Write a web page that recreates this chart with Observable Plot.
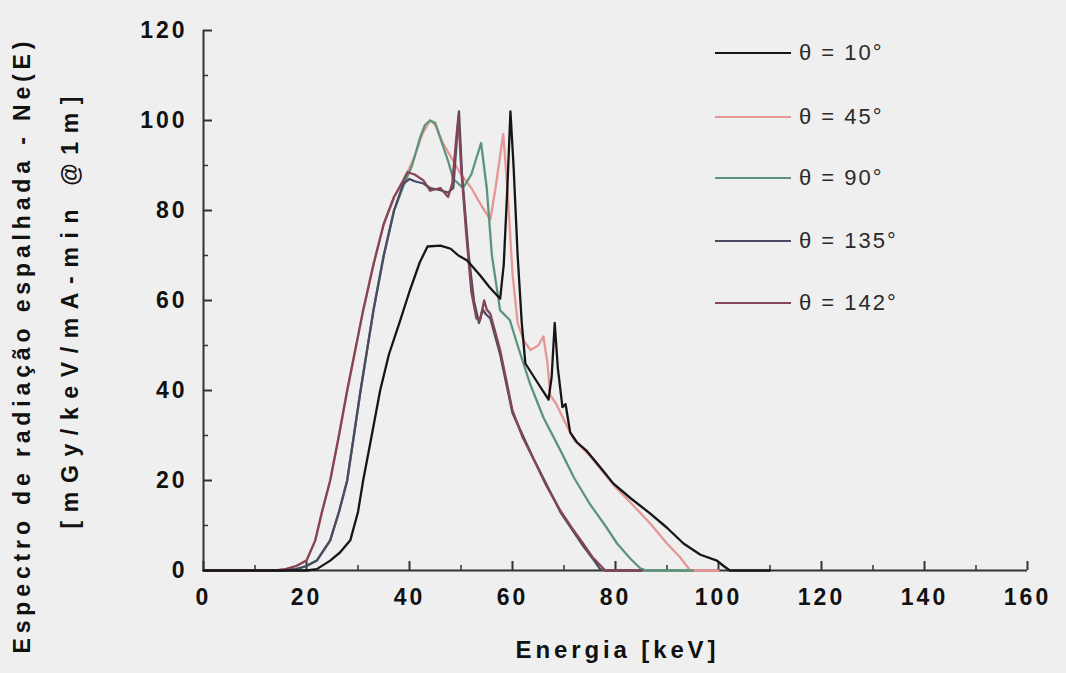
<!DOCTYPE html>
<html><head><meta charset="utf-8">
<script src="https://cdn.jsdelivr.net/npm/d3@7"></script>
<script src="https://cdn.jsdelivr.net/npm/@observablehq/plot@0.6"></script>
<style>
body{margin:0;background:#efefef;}
#wrap{position:relative;width:1066px;height:673px;background:#efefef;}
.legend{position:absolute;left:715px;top:0;font-family:"Liberation Sans",Arial,sans-serif;font-size:22px;color:#2a2a2a;}
.row{position:absolute;left:0;display:flex;align-items:center;white-space:nowrap;height:26px;margin-top:-13px;}
.sw{width:76px;height:0;border-top:2px solid;margin-right:8px;}
.lab{letter-spacing:2px;}
</style></head><body><div id="wrap"></div>
<script>
// Series names and colours
const seriesNames = ["θ = 10°", "θ = 45°", "θ = 90°", "θ = 135°", "θ = 142°"];
const seriesColors = ["#161616", "#e79696", "#5c957b", "#4a4a62", "#844556"];

// θ = 10°
const e10 = [0,20,22,24.6,26.5,28.5,30,31,32.5,34.3,36,38.2,40,42,43.5,46,48,49.5,51.2,53.7,55.5,57.6,58.3,59,59.6,60.2,61,61.8,62.5,65,67,67.6,68.2,68.8,69.7,70.3,71.2,72.5,74.3,77,79.6,83,86.7,90,93.2,96.5,99.7,101,102.2,110];
const v10 = [0,0,0.3,2.2,4,6.7,13,20,29,40,48,55.6,62,68.5,72,72.2,71.5,70,68.9,65.6,63,60.4,68,85,102,90,70,55,46,41.5,38,43,55,45,36.3,37,30.7,28.5,26.7,23,19.3,16,12.7,9.5,6,3.5,2.2,1,0,0];
// θ = 45°
const e45 = [0,14,16,18,20,21.7,23,24.6,26.3,27.9,31,33,35,37,39,41,42.5,44,45,46.5,48,50,52,54,55.7,56.7,58.2,59,60,61,62.2,63.5,65,66,66.8,67.3,68.5,70.6,72,75,80,83,86.7,90,92.5,94.5,100];
const v45 = [0,0,0.3,1,2.2,6.7,13,20,30,40,57.8,68,77,83,87,92,97,100,99,95,92,88,85,81,78,85,97,85,66,55,51,49,50,52,46,39,37,32,29,25.5,18.5,15,10.5,6,3,0,0];
// θ = 90°
const e90 = [0,15,18,20,22,24.6,26.3,27.9,29.2,30.5,33,35,37,39,40.5,42,43,44,45,46,47.5,48.5,50.4,52,53.9,55,56,57.6,59.5,61,63.4,66,69.3,72,75,78,80.3,83,84.8,86,95];
const v90 = [0,0,0.3,1,2.2,6.7,13,20,30,40,57.8,70,80,86,90,96,99,100,99.5,96,91,87,85,88,95,85,70,57.8,55.6,50,41.5,34,26.7,20.5,14.8,10,6,2.5,0.5,0,0];
// θ = 135°
const e135 = [0,15,18,20,22,24.6,26.3,27.9,29.2,30.5,33,35,37,38.8,40,41,42.7,44,46,47.5,48.5,49.2,49.6,50.2,51.5,52.5,53.5,54.2,54.8,55.7,57.6,60,64,69.3,73.7,76,77,78,85];
const v135 = [0,0,0.3,1,2.2,6.7,13,20,30,40,57.8,70,80,86,87,86.5,86,85,84.5,84,85,96,102,88,70,60,55,58,57,56,48,35,25,13,5.5,2,0.3,0,0];
// θ = 142°
const e142 = [0,14,16,18,20,21.7,23,24.6,26.3,27.9,31,33,35,37,38.8,39.6,41,42.7,44,46,47.5,48.3,49,49.5,50,51,52,53,53.7,54.5,55,55.7,57.6,60,62,64,66.5,69.3,71.5,73.7,75.5,77.6,78,85];
const v142 = [0,0,0.3,1,2.2,6.7,13,20,30,40,57.8,68,77,83,86.7,88.5,88,86.7,84.4,85,83,86,95,101,90,75,62,56,55.6,60,58,57,49,35.5,29.5,25,19,13.3,9.5,6,3,0.5,0,0];

// Axis ticks
const xMajor = [0,20,40,60,80,100,120,140,160];
const xMinor = [10,30,50,70,90,110,130,150];
const yMajor = [0,20,40,60,80,100,120];
const yMinor = [10,30,50,70,90,110];

const xTitle = "Energia [keV]";
const yTitle1 = "Espectro de radiação espalhada - Ne(E)";
const yTitle2 = "[mGy/keV/mA-min @1m]";

const energies = [e10, e45, e90, e135, e142];
const values = [v10, v45, v90, v135, v142];
const rows = [];
energies.forEach((es, i) => es.forEach((e, j) => rows.push({series: seriesNames[i], E: e, V: values[i][j]})));
const drawOrder = [1, 2, 3, 4, 0];

const font = "'Liberation Sans', Arial, Helvetica, sans-serif";
const chart = Plot.plot({
  width: 1066, height: 673,
  marginLeft: 203, marginRight: 39, marginTop: 30, marginBottom: 103,
  x: {domain: [0, 160]},
  y: {domain: [0, 120]},
  color: {domain: seriesNames, range: seriesColors},
  style: {background: "transparent", fontFamily: font, fontSize: "23px", fontWeight: "bold", color: "#111", overflow: "visible"},
  marks: [
    Plot.ruleY([0], {stroke: "#333", strokeWidth: 2}),
    Plot.ruleX([0], {stroke: "#333", strokeWidth: 2}),
    Plot.tickX(xMajor, {x: d => d, insetTop: 531, stroke: "#333", strokeWidth: 2}),
    Plot.tickX(xMinor, {x: d => d, insetTop: 535, stroke: "#333", strokeWidth: 1.5}),
    Plot.tickY(yMajor, {y: d => d, insetRight: 815, stroke: "#333", strokeWidth: 2}),
    Plot.tickY(yMinor, {y: d => d, insetRight: 819, stroke: "#333", strokeWidth: 1.5}),
    Plot.axisX({ticks: xMajor, tickSize: 0, tickPadding: 18, label: null, tickFormat: d => String(d)}),
    Plot.axisY({ticks: yMajor, tickSize: 0, tickPadding: 16, label: null, tickFormat: d => String(d)}),
    ...drawOrder.map(i => Plot.line(rows.filter(r => r.series === seriesNames[i]), {x: "E", y: "V", stroke: "series", strokeWidth: 2.3, curve: "linear"})),
    Plot.text([xTitle], {frameAnchor: "bottom", dy: 87, fontSize: 24, fontWeight: "bold", fill: "#111"}),
    Plot.text([yTitle1], {frameAnchor: "left", textAnchor: "middle", dx: -181, dy: 47, rotate: -90, fontSize: 23, fontWeight: "bold", fill: "#111"}),
    Plot.text([yTitle2], {frameAnchor: "left", textAnchor: "middle", dx: -133, dy: 12, rotate: -90, fontSize: 23, fontWeight: "bold", fill: "#111"})
  ]
});
const s = d3.select(chart);
s.selectAll("text").each(function() {
  const t = this.textContent;
  if (t === yTitle1) d3.select(this).attr("textLength", 612).attr("lengthAdjust", "spacing");
  else if (t === yTitle2) d3.select(this).attr("textLength", 432).attr("lengthAdjust", "spacing");
  else if (t === xTitle) d3.select(this).attr("textLength", 200).attr("lengthAdjust", "spacing");
  else if (/^\d+$/.test(t)) d3.select(this).style("letter-spacing", "3px");
});
document.getElementById("wrap").appendChild(chart);

// Legend
const legendY = [53, 117, 178, 241, 303];
const leg = document.createElement("div");
leg.className = "legend";
seriesNames.forEach((n, i) => {
  const r = document.createElement("div");
  r.className = "row";
  r.style.top = legendY[i] + "px";
  const sw = document.createElement("div");
  sw.className = "sw";
  sw.style.borderTopColor = seriesColors[i];
  const lb = document.createElement("span");
  lb.className = "lab";
  lb.textContent = n;
  r.appendChild(sw); r.appendChild(lb);
  leg.appendChild(r);
});
document.getElementById("wrap").appendChild(leg);
</script>
</body></html>
